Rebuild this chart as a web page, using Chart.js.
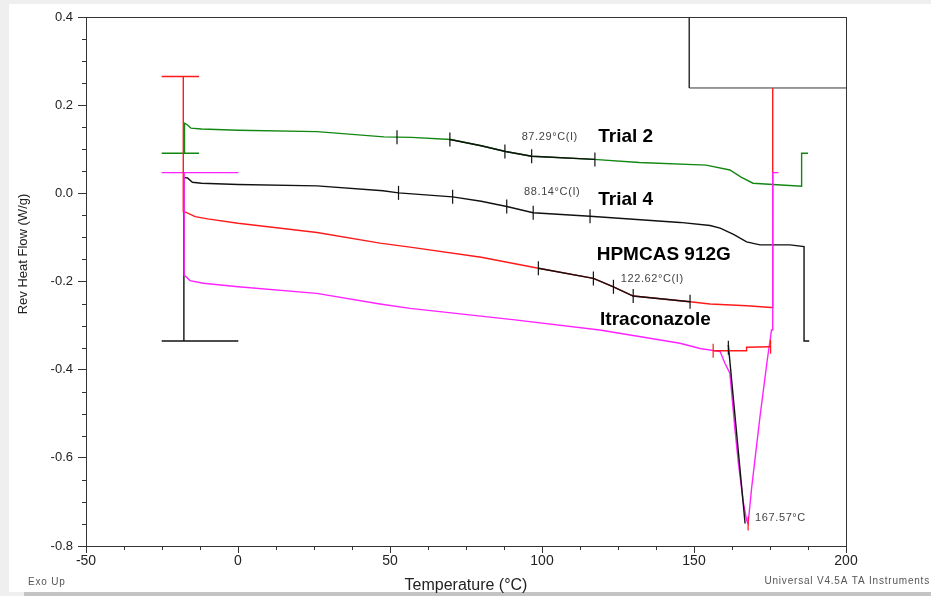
<!DOCTYPE html>
<html>
<head>
<meta charset="utf-8">
<script src="https://cdn.jsdelivr.net/npm/chart.js@4.4.1/dist/chart.umd.min.js"></script>
<style>
  html, body { margin: 0; padding: 0; background: #efefef; }
  #paper { position: absolute; left: 9px; top: 4px; width: 922px; height: 588px; background: #fff; }
  #shade { position: absolute; left: 24px; top: 592px; width: 907px; height: 4px; background: #c4c4c4; }
  #wrap { position: absolute; left: 0; top: 0; width: 931px; height: 596px; }
</style>
</head>
<body>
<div id="paper"></div>
<div id="shade"></div>
<div id="wrap"><canvas id="dsc"></canvas></div>
<script>
const trial2Temp = [-17.6, -17.6, -16.6, -15.5, -12, 0, 26, 48, 57, 70, 80, 88, 96.6, 117, 132, 154, 161.8, 165.5, 169.4, 176, 185.4, 185.4, 187.5];
const trial2Flow = [0.091, 0.159, 0.155, 0.148, 0.146, 0.143, 0.140, 0.128, 0.127, 0.122, 0.108, 0.095, 0.084, 0.077, 0.070, 0.064, 0.053, 0.037, 0.023, 0.020, 0.016, 0.091, 0.091];

const trial4Temp = [-17.8, -17.8, -16.6, -15, -12, 0, 26, 47.7, 52.8, 70.6, 80, 88.4, 97.1, 115.8, 145.4, 155.3, 158.6, 163, 167.3, 171.7, 181.6, 186.2, 186.2, 187.9];
const trial4Flow = [-0.335, 0.036, 0.035, 0.025, 0.023, 0.020, 0.017, 0.006, 0.001, -0.008, -0.018, -0.030, -0.044, -0.052, -0.066, -0.073, -0.079, -0.093, -0.110, -0.117, -0.117, -0.121, -0.335, -0.335];

const hpmcasTemp = [-18, -18, -17.4, -14.1, -10, 0, 26, 46.7, 56.6, 80, 98.8, 116.9, 123.5, 130, 148.7, 155.3, 167.3, 175.5, 175.9, 175.9];
const hpmcasFlow = [0.265, -0.042, -0.042, -0.053, -0.058, -0.068, -0.089, -0.113, -0.122, -0.145, -0.170, -0.193, -0.212, -0.233, -0.246, -0.251, -0.255, -0.259, -0.259, 0.239];

const itraTemp = [-17.7, -17.7, -15.8, -11.4, 0, 25.9, 46.7, 56.6, 91.1, 119, 145.4, 152, 158.6, 160.2, 161.8, 163.5, 164.6, 166.2, 167.3, 167.8, 169, 171.7, 174.1, 175.5, 175.9, 175.9, 177.8];
const itraFlow = [0.047, -0.185, -0.198, -0.204, -0.212, -0.227, -0.251, -0.261, -0.287, -0.310, -0.340, -0.352, -0.359, -0.386, -0.408, -0.537, -0.612, -0.700, -0.741, -0.749, -0.666, -0.507, -0.378, -0.310, -0.310, 0.047, 0.047];

// start-up brackets at the left end of each run
const bracketTemp = [-25.1, -12.8, -25.1, -12.8, -25.1, 0.1, -25.1, 0.1];
const bracketFlow = [0.091, 0.091, 0.265, 0.265, 0.047, 0.047, -0.335, -0.335];

// analysis overlays (glass transitions, melt onset/baseline)
const tg2Temp = [69.7, 80, 88, 96.6, 117.4];
const tg2Flow = [0.122, 0.108, 0.095, 0.084, 0.077];
const tgHpTemp = [98.8, 116.9, 123.5, 130, 148.7];
const tgHpFlow = [-0.170, -0.193, -0.212, -0.233, -0.246];
const meltTemp = [161.3, 166.8];
const meltFlow = [-0.344, -0.749];
const baseTemp = [156.3, 167.3, 167.3, 175.2];
const baseFlow = [-0.357, -0.357, -0.349, -0.348];

// cursor marks
const markTemp = [52.3, 69.7, 87.8, 96.6, 117.4, 52.8, 70.6, 88.4, 97.1, 115.8, 98.8, 116.9, 123.5, 130, 148.7, 161.3];
const markFlow = [0.127, 0.122, 0.095, 0.084, 0.077, 0.001, -0.008, -0.030, -0.044, -0.052, -0.170, -0.193, -0.212, -0.233, -0.246, -0.350];
const redMarkTemp = [156.3, 175.2, 167.8];
const redMarkFlow = [-0.357, -0.348, -0.749];

// empty legend frame in the corner
const boxTemp = [148.45, 148.45, 200];
const boxFlow = [0.4, 0.239, 0.239];

const xTicks = [-50, 0, 50, 100, 150, 200];
const yTicks = [-0.8, -0.6, -0.4, -0.2, 0.0, 0.2, 0.4];

const curveNames = ['Trial 2', 'Trial 4', 'HPMCAS 912G', 'Itraconazole'];
const curveNameAt = [[118.5, 0.128], [118.5, -0.015], [118, -0.140], [119.1, -0.287]];
const notes = ['87.29°C(I)', '88.14°C(I)', '122.62°C(I)', '167.57°C'];
const noteAt = [[93.3, 0.128], [94.1, 0.004], [125.9, -0.194], [170.1, -0.737]];

const FONT = '"Liberation Sans", Arial, sans-serif';
Chart.defaults.font.family = FONT;

const pts = (xs, ys) => xs.map((x, i) => ({ x: x, y: ys[i] }));

function curve(xs, ys, color, order, width) {
    return { data: pts(xs, ys), showLine: true, borderColor: color, borderWidth: width || 1.4, pointRadius: 0, order: order };
}

function segments(xs, ys, color, order) {
    // pairs of points, drawn as separate pieces
    const d = [];
    for (let i = 0; i < xs.length; i += 2) {
        d.push({ x: xs[i], y: ys[i] }, { x: xs[i + 1], y: ys[i + 1] }, { x: xs[i + 1], y: null });
    }
    return { data: d, showLine: true, spanGaps: false, borderColor: color, borderWidth: 1.4, pointRadius: 0, order: order };
}

function marks(xs, ys, color, order) {
    return {
        data: pts(xs, ys), showLine: false, pointStyle: 'line', pointRotation: 90,
        pointRadius: 7, pointBorderColor: color, pointBorderWidth: 1.2, order: order
    };
}

const bracketColors = ['#118811', '#ff1a1a', '#ff22ff', '#111'];

const minorTicks = {
    id: 'minorTicks',
    afterDraw(chart) {
        const { ctx, scales: { x, y }, chartArea: a } = chart;
        ctx.save();
        ctx.strokeStyle = '#333';
        ctx.lineWidth = 1;
        ctx.beginPath();
        for (let i = 0; i < yTicks.length - 1; i++) {
            for (let k = 1; k < 4; k++) {
                const py = Math.round(y.getPixelForValue(yTicks[i] + (yTicks[i + 1] - yTicks[i]) * k / 4)) + 0.5;
                ctx.moveTo(a.left - 4, py);
                ctx.lineTo(a.left, py);
            }
        }
        for (let i = 0; i < xTicks.length - 1; i++) {
            for (let k = 1; k < 4; k++) {
                const px = Math.round(x.getPixelForValue(xTicks[i] + (xTicks[i + 1] - xTicks[i]) * k / 4)) + 0.5;
                ctx.moveTo(px, a.bottom);
                ctx.lineTo(px, a.bottom + 4);
            }
        }
        ctx.stroke();
        ctx.strokeRect(Math.round(a.left) + 0.5, Math.round(a.top) + 0.5, Math.round(a.right - a.left), Math.round(a.bottom - a.top));
        ctx.restore();
    }
};

const textLayer = {
    id: 'textLayer',
    afterDraw(chart) {
        const { ctx, scales: { x, y }, chartArea: a } = chart;
        ctx.save();
        ctx.textBaseline = 'middle';
        ctx.textAlign = 'left';

        ctx.fillStyle = '#000';
        ctx.font = 'bold 19px ' + FONT;
        curveNames.forEach((t, i) => {
            ctx.fillText(t, x.getPixelForValue(curveNameAt[i][0]), y.getPixelForValue(curveNameAt[i][1]));
        });

        ctx.fillStyle = '#444';
        ctx.font = '11px ' + FONT;
        ctx.letterSpacing = '0.6px';
        notes.forEach((t, i) => {
            ctx.fillText(t, x.getPixelForValue(noteAt[i][0]), y.getPixelForValue(noteAt[i][1]));
        });

        ctx.letterSpacing = '0px';
        ctx.fillStyle = '#222';
        ctx.textAlign = 'center';
        ctx.font = '16px ' + FONT;
        ctx.fillText('Temperature (°C)', (a.left + a.right) / 2, 586);

        ctx.save();
        ctx.translate(23, 254);
        ctx.rotate(-Math.PI / 2);
        ctx.font = '13px ' + FONT;
        ctx.fillText('Rev Heat Flow (W/g)', 0, 0);
        ctx.restore();

        ctx.fillStyle = '#555';
        ctx.font = '10px ' + FONT;
        ctx.letterSpacing = '0.8px';
        ctx.textAlign = 'left';
        ctx.fillText('Exo Up', 28, 582);
        ctx.textAlign = 'right';
        ctx.fillText('Universal V4.5A TA Instruments', 930, 581);
        ctx.restore();
    }
};

const datasets = [
    marks(markTemp, markFlow, '#111', 1),
    marks(redMarkTemp, redMarkFlow, '#ff1a1a', 1),
    curve(tg2Temp, tg2Flow, '#111', 2),
    curve(tgHpTemp, tgHpFlow, '#111', 2),
    curve(meltTemp, meltFlow, '#111', 3),
    curve(baseTemp, baseFlow, '#ff1a1a', 2),
    curve(itraTemp, itraFlow, '#ff22ff', 4),
    curve(hpmcasTemp, hpmcasFlow, '#ff1a1a', 5),
    curve(trial4Temp, trial4Flow, '#111', 6),
    curve(trial2Temp, trial2Flow, '#118811', 7),
    curve(boxTemp, boxFlow, '#333', 8, 1)
];
for (let i = 0; i < bracketColors.length; i++) {
    datasets.push(segments(bracketTemp.slice(i * 2, i * 2 + 2), bracketFlow.slice(i * 2, i * 2 + 2), bracketColors[i], 6));
}

new Chart(document.getElementById('dsc'), {
    type: 'scatter',
    data: { datasets: datasets },
    options: {
        responsive: true,
        maintainAspectRatio: false,
        animation: false,
        events: [],
        layout: { padding: { top: 17, right: 85, left: 0, bottom: 0 } },
        plugins: { legend: { display: false }, tooltip: { enabled: false } },
        scales: {
            x: {
                type: 'linear', min: -50, max: 200,
                afterFit: s => { s.height = 50; },
                afterBuildTicks: s => { s.ticks = xTicks.map(v => ({ value: v })); },
                grid: { drawOnChartArea: false, tickLength: 7, tickColor: '#333' },
                border: { color: '#333' },
                ticks: { color: '#222', font: { size: 14 }, padding: 0, maxRotation: 0 }
            },
            y: {
                type: 'linear', min: -0.8, max: 0.4,
                afterFit: s => { s.width = 86; },
                afterBuildTicks: s => { s.ticks = yTicks.map(v => ({ value: v })); },
                grid: { drawOnChartArea: false, tickLength: 8, tickColor: '#333' },
                border: { color: '#333' },
                ticks: {
                    color: '#222', font: { size: 13 }, padding: 5,
                    callback: v => (Math.abs(v) < 1e-9 ? 0 : v).toFixed(1)
                }
            }
        }
    },
    plugins: [minorTicks, textLayer]
});
</script>
</body>
</html>
